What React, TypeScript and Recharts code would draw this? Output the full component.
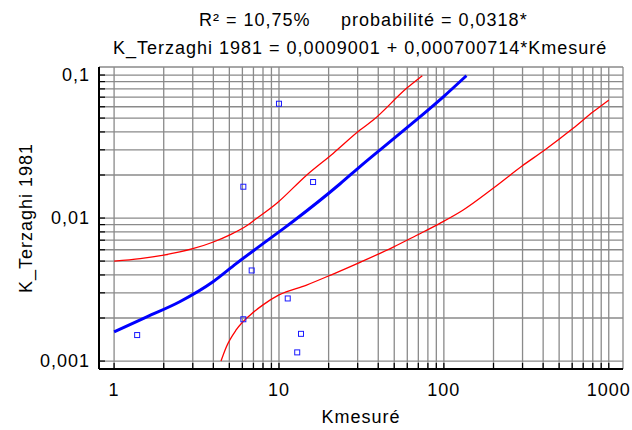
import {
  ComposedChart,
  Line,
  Scatter,
  XAxis,
  YAxis,
  CartesianGrid,
} from 'recharts';

// observed points (Kmesuré, K_Terzaghi 1981)
const OBS_X = [1.38, 6.08, 6.08, 6.83, 10.0, 11.3, 12.9, 13.6, 16.1];
const OBS_Y = [0.00152, 0.01656, 0.00196, 0.0043, 0.063, 0.00274, 0.00115, 0.00155, 0.01786];

// fitted line
const FIT_X = [1, 1.58, 2.5, 4, 5.5, 10, 12.2, 23.4, 31, 60, 100, 137];
const FIT_Y = [0.0016, 0.00204, 0.0026, 0.0036, 0.0048, 0.008, 0.0095, 0.0173, 0.0229, 0.043, 0.071, 0.099];

// upper limit
const UP_X = [1, 1.44, 2, 3, 4, 5, 6.4, 7.2, 9.7, 14.7, 21.3, 31, 37.3, 59.4, 74];
const UP_Y = [0.005, 0.0052, 0.0055, 0.0061, 0.0068, 0.0076, 0.00887, 0.0098, 0.0127, 0.01995, 0.0283, 0.0412, 0.0484, 0.0807, 0.099];

// lower limit
const LOW_X = [4.45, 4.8, 5.5, 6.7, 8, 10, 14.7, 21.3, 31, 49, 68, 94.6, 131, 199, 298, 409, 608, 804, 1000];
const LOW_Y = [0.001, 0.00126, 0.00165, 0.0021, 0.00247, 0.0029, 0.0034, 0.00406, 0.0049, 0.00624, 0.00755, 0.00918, 0.01138, 0.01614, 0.0231, 0.0299, 0.0424, 0.0553, 0.0668];

const X_TICKS = [
  1, 2, 3, 4, 5, 6, 7, 8, 9,
  10, 20, 30, 40, 50, 60, 70, 80, 90,
  100, 200, 300, 400, 500, 600, 700, 800, 900, 1000,
];
const Y_TICKS = [
  0.001, 0.002, 0.003, 0.004, 0.005, 0.006, 0.007, 0.008, 0.009,
  0.01, 0.02, 0.03, 0.04, 0.05, 0.06, 0.07, 0.08, 0.09, 0.1,
];
const X_LABELS: Record<number, string> = { 1: '1', 10: '10', 100: '100', 1000: '1000' };
const Y_LABELS: Record<number, string> = { 0.001: '0,001', 0.01: '0,01', 0.1: '0,1' };

const toPts = (xs: number[], ys: number[]) => xs.map((x, i) => ({ x, y: ys[i] }));
const obs = toPts(OBS_X, OBS_Y);
const fit = toPts(FIT_X, FIT_Y);
const upper = toPts(UP_X, UP_Y);
const lower = toPts(LOW_X, LOW_Y);

const FONT = '"Liberation Sans", Arial, sans-serif';
const X_DOMAIN = [0.81, 1220];
const Y_DOMAIN = [0.00088, 0.1138];

const Square = (props: any) => {
  const { cx, cy } = props;
  if (cx == null || cy == null) return null;
  return <rect x={cx - 2.5} y={cy - 2.5} width={5} height={5} fill="none" stroke="#1a1aff" strokeWidth={1} />;
};

export default function App() {
  const axisLine = { stroke: '#000', strokeWidth: 2 };
  const tickLine = { stroke: '#000', strokeWidth: 1.2 };
  const tickStyle = { fill: '#000', fontSize: 18, fontFamily: FONT, letterSpacing: 1 };
  const txt = { fontFamily: FONT, fontSize: 18, fill: '#000', letterSpacing: 1 };
  return (
    <div style={{ position: 'absolute', left: 0, top: 0, width: 632, height: 430, background: '#fff' }}>
      <ComposedChart width={632} height={430} margin={{ top: 67, right: 9, bottom: 0, left: 0 }}>
        <CartesianGrid stroke="#8a8a8a" strokeWidth={1.3} />
        <XAxis
          dataKey="x"
          type="number"
          scale="log"
          domain={X_DOMAIN}
          allowDataOverflow
          ticks={X_TICKS}
          interval={0}
          height={61}
          axisLine={axisLine}
          tickLine={tickLine}
          tickSize={-6}
          tickMargin={20}
          tick={tickStyle}
          tickFormatter={(v: number) => X_LABELS[v] ?? ''}
        />
        <XAxis
          xAxisId="top"
          orientation="top"
          dataKey="x"
          type="number"
          scale="log"
          domain={X_DOMAIN}
          allowDataOverflow
          ticks={X_TICKS}
          interval={0}
          height={0}
          axisLine={axisLine}
          tickLine={tickLine}
          tickSize={-6}
          tickFormatter={() => ''}
        />
        <YAxis
          dataKey="y"
          type="number"
          scale="log"
          domain={Y_DOMAIN}
          allowDataOverflow
          ticks={Y_TICKS}
          interval={0}
          width={99}
          axisLine={axisLine}
          tickLine={tickLine}
          tickSize={-6}
          tickMargin={15}
          tick={tickStyle}
          tickFormatter={(v: number) => Y_LABELS[v] ?? ''}
        />
        <YAxis
          yAxisId="right"
          orientation="right"
          dataKey="y"
          type="number"
          scale="log"
          domain={Y_DOMAIN}
          allowDataOverflow
          ticks={Y_TICKS}
          interval={0}
          width={0}
          axisLine={axisLine}
          tickLine={tickLine}
          tickSize={-6}
          tickFormatter={() => ''}
        />
        <Line data={upper} dataKey="y" stroke="#ff0000" strokeWidth={1.3} dot={false} isAnimationActive={false} type="monotone" />
        <Line data={lower} dataKey="y" stroke="#ff0000" strokeWidth={1.3} dot={false} isAnimationActive={false} type="monotone" />
        <Line data={fit} dataKey="y" stroke="#0000ff" strokeWidth={3} dot={false} isAnimationActive={false} type="monotone" />
        <Scatter data={obs} dataKey="y" shape={Square} isAnimationActive={false} />
      </ComposedChart>
      <svg width={632} height={430} style={{ position: 'absolute', left: 0, top: 0, pointerEvents: 'none' }}>
        <text x={199} y={26} {...txt}>R² = 10,75%</text>
        <text x={341} y={26} {...txt}>probabilité = 0,0318*</text>
        <text x={113} y={54} {...txt}>K_Terzaghi 1981 = 0,0009001 + 0,000700714*Kmesuré</text>
        <text x={361} y={423} textAnchor="middle" {...txt}>Kmesuré</text>
        <text x={32} y={218} textAnchor="middle" {...txt} transform="rotate(-90 32 218)">
          K_Terzaghi 1981
        </text>
      </svg>
    </div>
  );
}
